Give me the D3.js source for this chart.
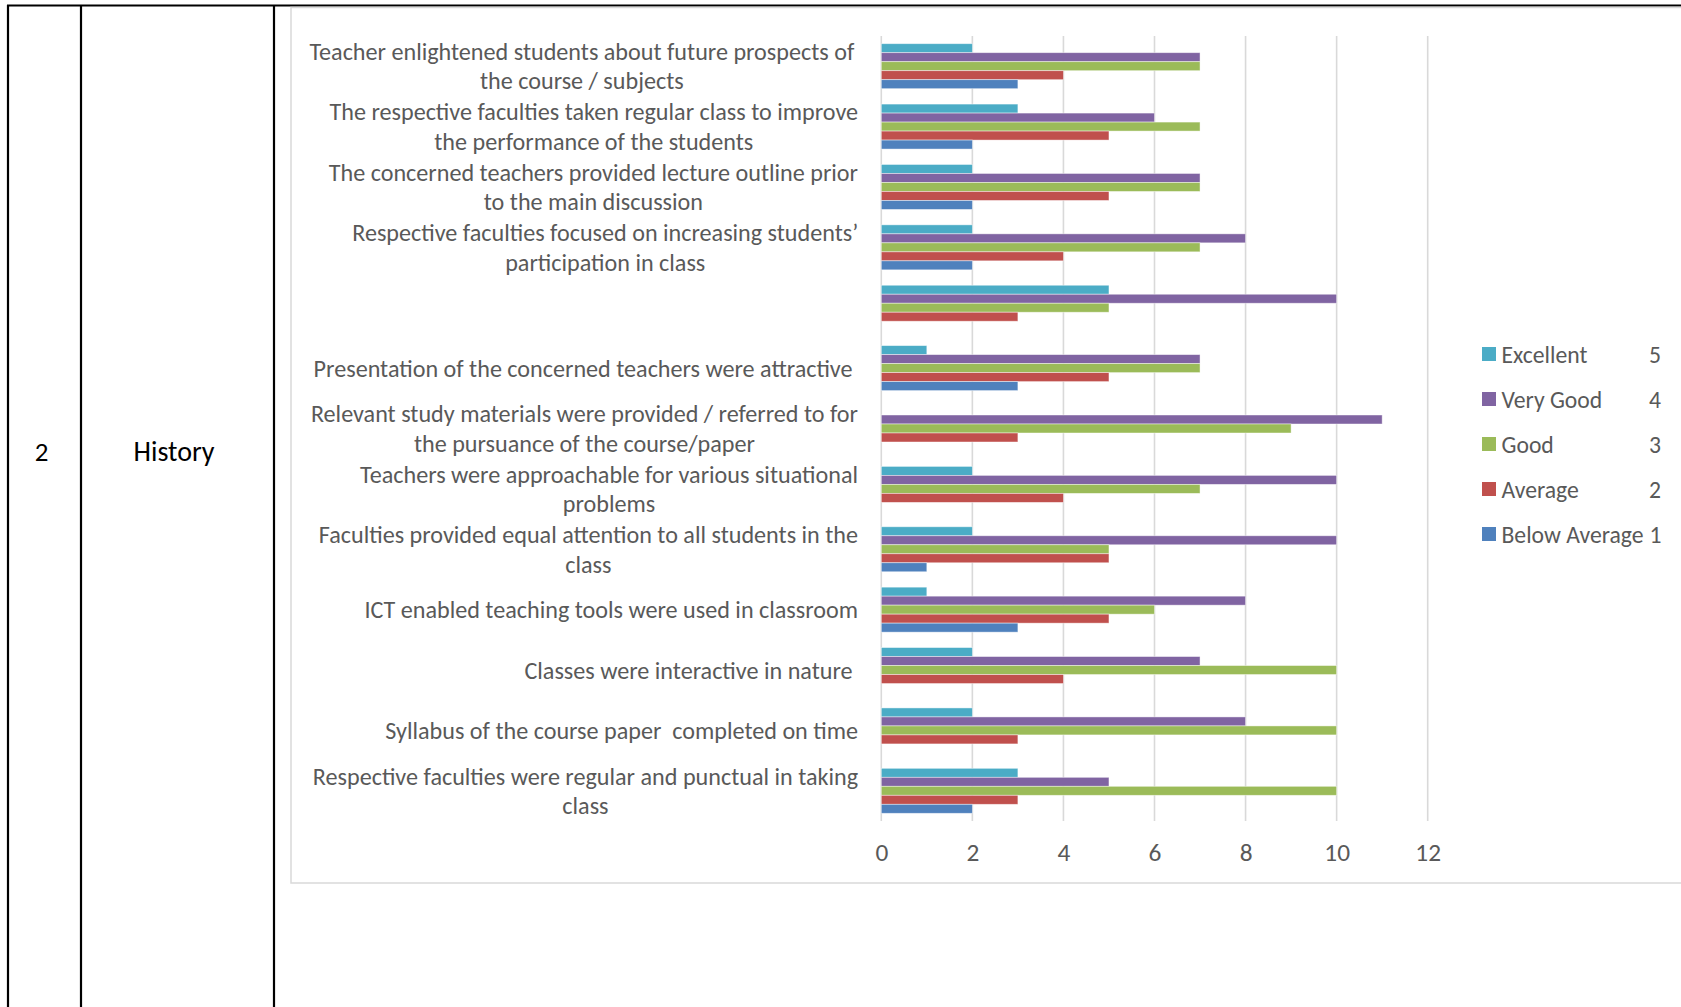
<!DOCTYPE html>
<html>
<head>
<meta charset="utf-8">
<script src="https://cdn.jsdelivr.net/npm/d3@7"></script>
<style>
  html, body { margin: 0; padding: 0; background: #fff; }
  svg { display: block; }
  text { font-family: Carlito, Calibri, Lato, "Open Sans", sans-serif; white-space: pre; }
</style>
</head>
<body>
<svg id="chart" width="1681" height="1007"></svg>
<script>
// ---- data (categories listed top to bottom as drawn) ----
const categories = [
  "Teacher enlightened students about future prospects of\nthe course / subjects",
  "The respective faculties taken regular class to improve\nthe performance of the students",
  "The concerned teachers provided lecture outline prior\nto the main discussion",
  "Respective faculties focused on increasing students’\nparticipation in class",
  "",
  "Presentation of the concerned teachers were attractive ",
  "Relevant study materials were provided / referred to for\nthe pursuance of the course/paper",
  "Teachers were approachable for various situational\nproblems",
  "Faculties provided equal attention to all students in the\nclass",
  "ICT enabled teaching tools were used in classroom",
  "Classes were interactive in nature ",
  "Syllabus of the course paper  completed on time",
  "Respective faculties were regular and punctual in taking\nclass"
];
const seriesNames = ["Excellent", "Very Good", "Good", "Average", "Below Average"];
const seriesScores = ["5", "4", "3", "2", "1"];
const seriesColors = ["#4BACC6", "#8064A2", "#9BBB59", "#C0504D", "#4F81BD"];
const excellent    = [2, 3, 2, 2, 5, 1, 0, 2, 2, 1, 2, 2, 3];
const veryGood     = [7, 6, 7, 8, 10, 7, 11, 10, 10, 8, 7, 8, 5];
const good         = [7, 7, 7, 7, 5, 7, 9, 7, 5, 6, 10, 10, 10];
const average      = [4, 5, 5, 4, 3, 5, 3, 4, 5, 5, 4, 3, 3];
const belowAverage = [3, 2, 2, 2, 0, 3, 0, 0, 1, 3, 0, 0, 2];
const tickValues = [0, 2, 4, 6, 8, 10, 12];
const tableNumber = "2";
const tableSubject = "History";

const seriesValues = [excellent, veryGood, good, average, belowAverage];

// ---- layout ----
const svg = d3.select("#chart");
const plot = { left: 881.3, right: 1427.7, top: 36, bottom: 821 };

const x = d3.scaleLinear().domain([0, 12]).range([plot.left, plot.right]);
const idx = d3.range(categories.length);
const y = d3.scaleBand().domain(idx).range([plot.top, plot.bottom])
  .paddingInner(0.255).paddingOuter(0.1275);
const ys = d3.scaleBand().domain(d3.range(seriesNames.length)).range([0, y.bandwidth()]);

// ---- table frame ----
const tbl = svg.append("g");
tbl.append("line").attr("x1", 7).attr("x2", 1681).attr("y1", 5.5).attr("y2", 5.5)
  .attr("stroke", "#000").attr("stroke-width", 2);
[8, 81, 274].forEach(v => {
  tbl.append("line").attr("x1", v).attr("x2", v).attr("y1", 5).attr("y2", 1007)
    .attr("stroke", "#000").attr("stroke-width", 2.2);
});
tbl.append("text").attr("x", 41.5).attr("y", 451).attr("text-anchor", "middle")
  .attr("dominant-baseline", "central").attr("font-size", 27).attr("fill", "#000").text(tableNumber);
tbl.append("text").attr("x", 174).attr("y", 451).attr("text-anchor", "middle")
  .attr("dominant-baseline", "central").attr("font-size", 28).attr("fill", "#000").text(tableSubject);

// ---- chart box ----
svg.append("path")
  .attr("d", `M1690,7.5 H291 V883 H1690`)
  .attr("fill", "none").attr("stroke", "#d9d9d9").attr("stroke-width", 1.5);

// ---- gridlines ----
svg.append("g").selectAll("line").data(tickValues).join("line")
  .attr("x1", d => x(d)).attr("x2", d => x(d))
  .attr("y1", plot.top).attr("y2", plot.bottom)
  .attr("stroke", "#d9d9d9").attr("stroke-width", 1.6);

// ---- bars ----
const barData = [];
idx.forEach(i => seriesValues.forEach((vals, s) => barData.push({ i, s, v: vals[i] })));
svg.append("g").selectAll("rect").data(barData.filter(d => d.v > 0)).join("rect")
  .attr("x", x(0))
  .attr("y", d => y(d.i) + ys(d.s))
  .attr("width", d => x(d.v) - x(0))
  .attr("height", ys.bandwidth())
  .attr("fill", d => seriesColors[d.s])
  .attr("stroke", "#ffffff").attr("stroke-opacity", 0.55).attr("stroke-width", 0.8);

// ---- category labels ----
const labelSize = 21;
const lineH = 29.5;
const labelRight = 858;
const lg = svg.append("g").attr("font-size", labelSize).attr("fill", "#595959");
let scaleF = 1;
// measure widest line to fit the reference width (~545px)
const probe = lg.append("text").text(categories[0].split("\n")[0]);
const w0 = probe.node().getComputedTextLength();
probe.remove();
scaleF = 545 / w0;
const fs = labelSize * scaleF;
lg.attr("font-size", fs);
categories.forEach((c, i) => {
  if (!c) return;
  const lines = c.split("\n");
  const cy = y(i) + y.bandwidth() / 2;
  const t = lg.append("text").attr("text-anchor", "middle");
  const spans = lines.map((ln, k) => t.append("tspan").text(ln));
  const widths = spans.map(sp => sp.node().getComputedTextLength());
  const bw = d3.max(widths);
  const cx = labelRight - bw / 2;
  const y0 = cy - (lines.length - 1) * lineH / 2;
  spans.forEach((sp, k) => sp.attr("x", cx).attr("y", y0 + k * lineH).attr("dominant-baseline", "central"));
});

// ---- x axis labels ----
const axis = d3.axisBottom(x).tickValues(tickValues).tickSize(0).tickPadding(22).tickFormat(d3.format("d"));
const ag = svg.append("g").attr("transform", `translate(0,${plot.bottom})`).call(axis);
ag.select(".domain").remove();
ag.selectAll("text").attr("font-size", fs * 1.05).attr("fill", "#595959")
  .style("font-family", "Carlito, Calibri, Lato, 'Open Sans', sans-serif");

// ---- legend ----
const leg = svg.append("g").attr("font-size", fs * 0.98).attr("fill", "#595959");
seriesNames.forEach((n, s) => {
  const cy = 354 + s * 45;
  leg.append("rect").attr("x", 1482).attr("y", cy - 7).attr("width", 14).attr("height", 14)
    .attr("fill", seriesColors[s]);
  const nt = leg.append("text").attr("x", 1501.5).attr("y", cy).attr("dominant-baseline", "central").text(n);
  const nameEnd = 1501.5 + nt.node().getComputedTextLength();
  leg.append("text").attr("x", Math.max(1649, nameEnd + 6)).attr("y", cy)
    .attr("dominant-baseline", "central").text(seriesScores[s]);
});
</script>
</body>
</html>
